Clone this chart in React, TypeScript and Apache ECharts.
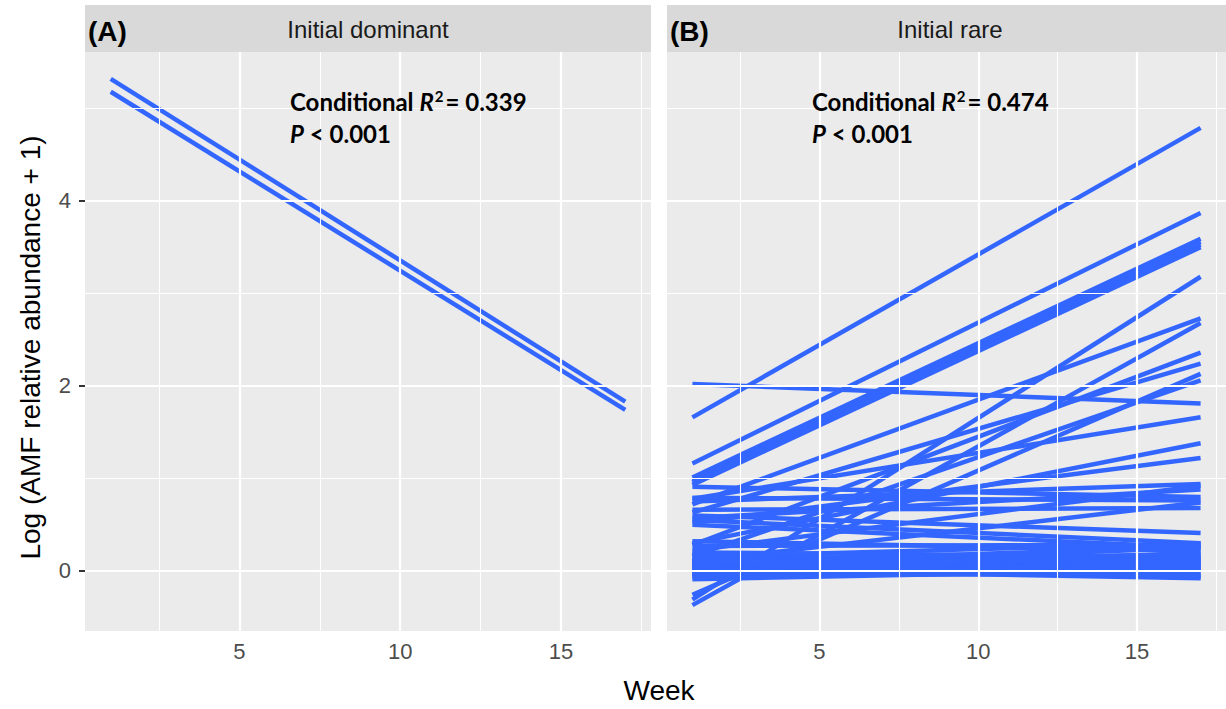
import React, { useEffect, useRef } from "react";
import * as echarts from "echarts";

// ---- data ----
const weeks = [1, 17];
const xTickValues = [5, 10, 15];
const yTickValues = [0, 2, 4];
const xMajorGrid = [5, 10, 15];
const xMinorGrid = [2.5, 7.5, 12.5, 17.5];
const yMajorGrid = [0, 2, 4];
const yMinorGrid = [1, 3, 5];
const panelTitles = ["Initial dominant", "Initial rare"];
const panelTags = ["(A)", "(B)"];
const r2Values = ["0.339", "0.474"];
const pValues = ["< 0.001", "< 0.001"];

// Panel A: fitted lines, value at week 1 and week 17
const dominantStart = [5.32, 5.18];
const dominantEnd = [1.83, 1.74];

// Panel B: fitted lines, value at week 1 and week 17
const rareStart = [
  1.66, 1.16, 1.01, 0.98, 0.96, 0.93, -0.31, 0.72, -0.37, 0.28, 0.63, -0.26, 0.16, 2.02,
  0.78, 0.30, 0.52,
  0.91, 0.79, 0.75, 0.66, 0.57, 0.22, 0.10, 0.60, 0.55, 0.50,
  0.32, 0.27, 0.20, 0.18, 0.15, 0.13, 0.11, 0.10, 0.08, 0.06, 0.05, 0.04, 0.03, 0.02,
  0.00, -0.02, -0.04, -0.05, -0.07, -0.09, 0.12, 0.07, -0.03, 0.09,
];
const rareEnd = [
  4.79, 3.87, 3.59, 3.56, 3.53, 3.50, 3.18, 2.73, 2.68, 2.36, 2.24, 2.13, 2.06, 1.81,
  1.66, 1.38, 1.22,
  0.80, 0.76, 0.94, 0.68, 0.88, 0.92, 0.74, 0.41, 0.30, 0.25,
  0.22, 0.28, 0.15, 0.05, 0.30, 0.10, 0.02, 0.18, -0.05, 0.12, 0.25, 0.00, 0.08, -0.08,
  0.15, 0.04, 0.20, -0.03, 0.10, 0.02, -0.07, 0.27, 0.06, 0.13,
];

const xRange = [0.2, 17.8];
const yRange = [-0.65, 5.61];

const LINE_COLOR = "#3366FF";
const PANEL_LEFT = [85, 667];
const PANEL_W = 566;
const PANEL_TOP = 52;
const PANEL_H = 579;
const STRIP_TOP = 5;

export default function App() {
  const ref = useRef<HTMLDivElement>(null);

  useEffect(() => {
    if (!ref.current) return;
    const chart = echarts.init(ref.current, null, { renderer: "svg" });

    const grids = PANEL_LEFT.map((left) => ({
      left,
      top: PANEL_TOP,
      width: PANEL_W,
      height: PANEL_H,
      show: true,
      backgroundColor: "#EBEBEB",
      borderWidth: 0,
      containLabel: false,
    }));

    const xAxes = [0, 1].map((i) => ({
      type: "value",
      gridIndex: i,
      min: xRange[0],
      max: xRange[1],
      axisLine: { show: false },
      splitLine: { show: false },
      axisTick: {
        show: true,
        customValues: xTickValues,
        length: 6,
        lineStyle: { color: "#333333", width: 2 },
      },
      axisLabel: {
        show: true,
        customValues: xTickValues,
        margin: 9,
        color: "#4D4D4D",
        fontSize: 22,
        fontFamily: "Liberation Sans",
      },
    }));

    const yAxes = [0, 1].map((i) => ({
      type: "value",
      gridIndex: i,
      min: yRange[0],
      max: yRange[1],
      axisLine: { show: false },
      splitLine: { show: false },
      axisTick: {
        show: i === 0,
        customValues: yTickValues,
        length: 6,
        lineStyle: { color: "#333333", width: 2 },
      },
      axisLabel: {
        show: i === 0,
        customValues: yTickValues,
        margin: 14,
        color: "#4D4D4D",
        fontSize: 22,
        fontFamily: "Liberation Sans",
      },
    }));

    const gridLineSeries = [0, 1].map((i) => ({
      type: "line",
      xAxisIndex: i,
      yAxisIndex: i,
      data: [],
      z: 1,
      silent: true,
      markLine: {
        silent: true,
        symbol: ["none", "none"],
        label: { show: false },
        emphasis: { disabled: true },
        data: [
          ...xMinorGrid.map((v) => ({ xAxis: v, lineStyle: { color: "#FFFFFF", width: 1.1, type: "solid" } })),
          ...yMinorGrid.map((v) => ({ yAxis: v, lineStyle: { color: "#FFFFFF", width: 1.1, type: "solid" } })),
          ...xMajorGrid.map((v) => ({ xAxis: v, lineStyle: { color: "#FFFFFF", width: 2.2, type: "solid" } })),
          ...yMajorGrid.map((v) => ({ yAxis: v, lineStyle: { color: "#FFFFFF", width: 2.2, type: "solid" } })),
        ],
      },
    }));

    const mkLine = (panel: number, s: number, e: number) => ({
      type: "line",
      xAxisIndex: panel,
      yAxisIndex: panel,
      data: [
        [weeks[0], s],
        [weeks[1], e],
      ],
      symbol: "none",
      showSymbol: false,
      silent: true,
      z: 3,
      lineStyle: { color: LINE_COLOR, width: 4.5, cap: "butt" },
    });

    const dataSeries = [
      ...dominantStart.map((s, k) => mkLine(0, s, dominantEnd[k])),
      ...rareStart.map((s, k) => mkLine(1, s, rareEnd[k])),
    ];

    const annoRich = {
      a: { fontFamily: "Lato", fontWeight: "bold", fontSize: 24, fill: "#000", lineHeight: 28 },
      i: { fontFamily: "Lato", fontWeight: "bold", fontStyle: "italic", fontSize: 24, fill: "#000", lineHeight: 28 },
      s: { fontFamily: "Lato", fontWeight: "bold", fontSize: 15, fill: "#000", verticalAlign: "top", lineHeight: 28, padding: [1, 2, 0, 1] },
    };

    const graphics: any[] = [];
    [0, 1].forEach((i) => {
      const left = PANEL_LEFT[i];
      graphics.push({
        type: "rect",
        shape: { x: left, y: STRIP_TOP, width: PANEL_W, height: PANEL_TOP - STRIP_TOP },
        style: { fill: "#D9D9D9" },
        z: 0,
      });
      graphics.push({
        type: "text",
        x: left + PANEL_W / 2,
        y: (STRIP_TOP + PANEL_TOP) / 2 + 1,
        style: {
          text: panelTitles[i],
          fill: "#1A1A1A",
          fontSize: 24,
          fontFamily: "Liberation Sans",
          align: "center",
          verticalAlign: "middle",
        },
        z: 10,
      });
      graphics.push({
        type: "text",
        x: left + 3,
        y: (STRIP_TOP + PANEL_TOP) / 2 + 3,
        style: {
          text: panelTags[i],
          fill: "#000000",
          fontSize: 28,
          fontWeight: "bold",
          fontFamily: "Liberation Sans",
          align: "left",
          verticalAlign: "middle",
        },
        z: 10,
      });
      const tx = i === 0 ? 290 : 812;
      graphics.push({
        type: "text",
        x: tx,
        y: 101,
        style: {
          text: "{a|Conditional }{i|R}{s|2}{a|= " + r2Values[i] + "}",
          align: "left",
          verticalAlign: "middle",
          rich: annoRich,
        },
        z: 10,
      });
      graphics.push({
        type: "text",
        x: tx,
        y: 133,
        style: {
          text: "{i|P}{a| " + pValues[i] + "}",
          align: "left",
          verticalAlign: "middle",
          rich: annoRich,
        },
        z: 10,
      });
    });
    graphics.push({
      type: "text",
      x: 30,
      y: PANEL_TOP + PANEL_H / 2 + 6,
      rotation: Math.PI / 2,
      style: {
        text: "Log (AMF relative abundance + 1)",
        fill: "#000000",
        fontSize: 28,
        fontFamily: "Liberation Sans",
        align: "center",
        verticalAlign: "middle",
      },
      z: 10,
    });
    graphics.push({
      type: "text",
      x: (PANEL_LEFT[0] + PANEL_LEFT[1] + PANEL_W) / 2,
      y: 690,
      style: {
        text: "Week",
        fill: "#000000",
        fontSize: 28,
        fontFamily: "Liberation Sans",
        align: "center",
        verticalAlign: "middle",
      },
      z: 10,
    });

    chart.setOption({
      animation: false,
      backgroundColor: "#FFFFFF",
      grid: grids,
      xAxis: xAxes,
      yAxis: yAxes,
      series: [...gridLineSeries, ...dataSeries],
      graphic: { elements: graphics },
    });

    return () => chart.dispose();
  }, []);

  return (
    <div
      ref={ref}
      style={{ position: "absolute", left: 0, top: 0, width: 1226, height: 709, overflow: "hidden" }}
    />
  );
}
